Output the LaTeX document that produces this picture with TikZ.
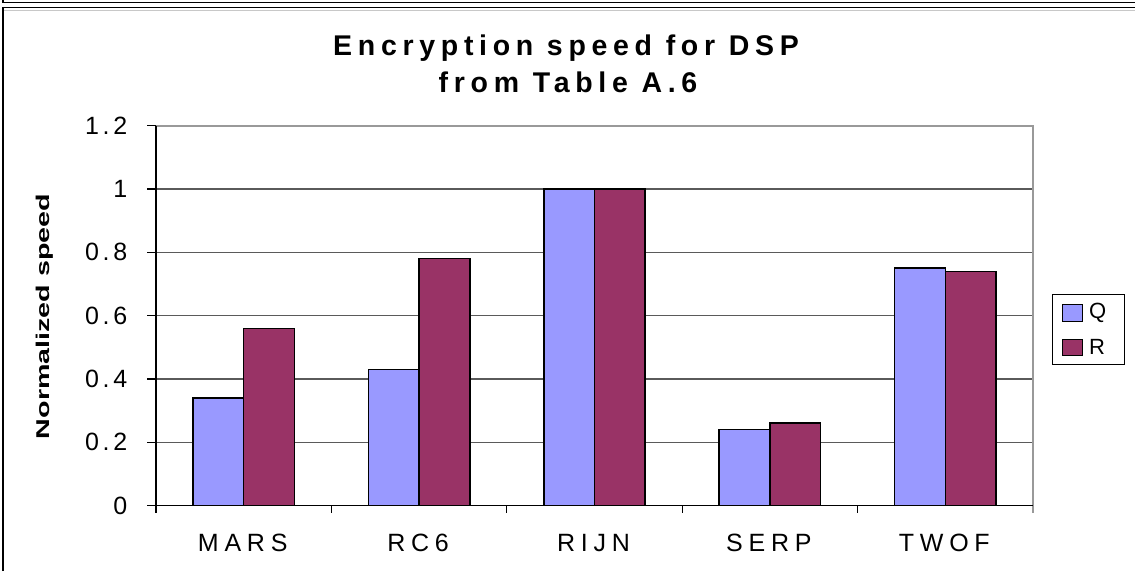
\documentclass[tikz,border=0pt]{standalone}
\usepackage{fontspec}
\usepackage{graphicx}
\setmainfont{Liberation Sans}
\newfontfamily\titlefont[LetterSpace=20]{Liberation Sans}
\newfontfamily\catfont[LetterSpace=23]{Liberation Sans}
\newfontfamily\tickfont[LetterSpace=15]{Liberation Sans}
\definecolor{barq}{HTML}{9999FF}
\definecolor{barr}{HTML}{993366}
\definecolor{gridc}{HTML}{5A5A5A}
\definecolor{borderc}{HTML}{999999}
\definecolor{shadowc}{HTML}{C8C8C8}
% tracked Arial-like chart text
\newcommand{\ticktext}[1]{\tickfont\fontsize{25}{30}\selectfont #1}
\newcommand{\cattext}[1]{\catfont\fontsize{25}{30}\selectfont #1}
\newcommand{\titletext}[1]{\titlefont\bfseries\fontsize{28.5}{34}\selectfont #1}
\begin{document}
\begin{tikzpicture}[x=1pt,y=-1pt,
  frameline/.style={line width=1.5pt, black},
  gridline/.style={line width=1.2pt, gridc},
  plotborder/.style={line width=1.2pt, borderc},
  axisline/.style={line width=1.2pt, black},
  barbox/.style={line width=1.5pt, draw=black},
  lbl/.style={inner sep=0pt},
  swatch/.style={line width=1pt, draw=black}]
\useasboundingbox (0,0) rectangle (1135,571);
\fill[white] (0,0) rectangle (1135,571);

% outer frames
\draw[frameline] (3,0) -- (3,2.5) -- (1135,2.5);
\draw[shadowc, line width=1pt] (4,10) -- (1135,10);
\draw[frameline] (3,571) -- (3,7.5) -- (1135,7.5);

% horizontal gridlines
\foreach \v in {0.2,0.4,0.6,0.8,1.0}
  \draw[gridline] (156,{505.5-316.5*\v}) -- (1033,{505.5-316.5*\v});
\draw[plotborder] (156,126) -- (1033,126) -- (1033,513);

% bars
\foreach \q/\r [count=\i from 0] in {0.34/0.56, 0.43/0.78, 1.0/1.0, 0.24/0.26, 0.75/0.74} {
  \pgfmathsetmacro\cx{156+175.4*(\i+0.5)}
  \draw[barbox, fill=barq] ({\cx-50.7},505.5) rectangle (\cx,{505.5-316.5*\q});
  \draw[barbox, fill=barr] (\cx,505.5) rectangle ({\cx+50.7},{505.5-316.5*\r});
}

% axes and ticks
\draw[axisline] (156,126) -- (156,513);
\draw[axisline] (156,505.5) -- (1033,505.5);
\foreach \v in {0,0.2,0.4,0.6,0.8,1.0,1.2}
  \draw[axisline] (147,{505.5-316.5*\v}) -- (156,{505.5-316.5*\v});
\foreach \k in {1,2,3,4}
  \draw[axisline] ({156+175.4*\k},505.5) -- ({156+175.4*\k},513);

% tick labels
\foreach \v [count=\j] in {0,0.2,0.4,0.6,0.8,1,1.2}
  \node[lbl, anchor=east] (yt\j) at (127.5,{505.5-316.5*\v}) {\ticktext{\v}};

% category labels
\foreach \name [count=\i from 0] in {MARS,RC6,RIJN,SERP,TWOF} {
  \pgfmathsetmacro\cx{156+175.4*(\i+0.5)}
  \node[lbl, anchor=base] (cat\i) at ({\cx-1},551) {\cattext{\name}};
}

% title
\node[lbl, anchor=base] (title1) at (566,55) {\titletext{Encryption speed for DSP}};
\node[lbl, anchor=base] (title2) at (568,92.7) {\titletext{from Table A.6}};

% y axis label (drawn elongated along its reading direction)
\node[lbl, rotate=90] (ylabel) at (45,316.5)
  {\scalebox{1.55}[1]{\bfseries\fontsize{18.5}{22}\selectfont Normalized speed}};

% legend
\draw[line width=1pt, black] (1052,294) rectangle (1124,364);
\draw[swatch, fill=barq] (1062,304) rectangle (1082,321);
\draw[swatch, fill=barr] (1062,339) rectangle (1082,355);
\node[lbl, anchor=west] (legq) at (1089,312.5) {\fontsize{22}{24}\selectfont Q};
\node[lbl, anchor=west] (legr) at (1089,347) {\fontsize{22}{24}\selectfont R};
\end{tikzpicture}
\end{document}
